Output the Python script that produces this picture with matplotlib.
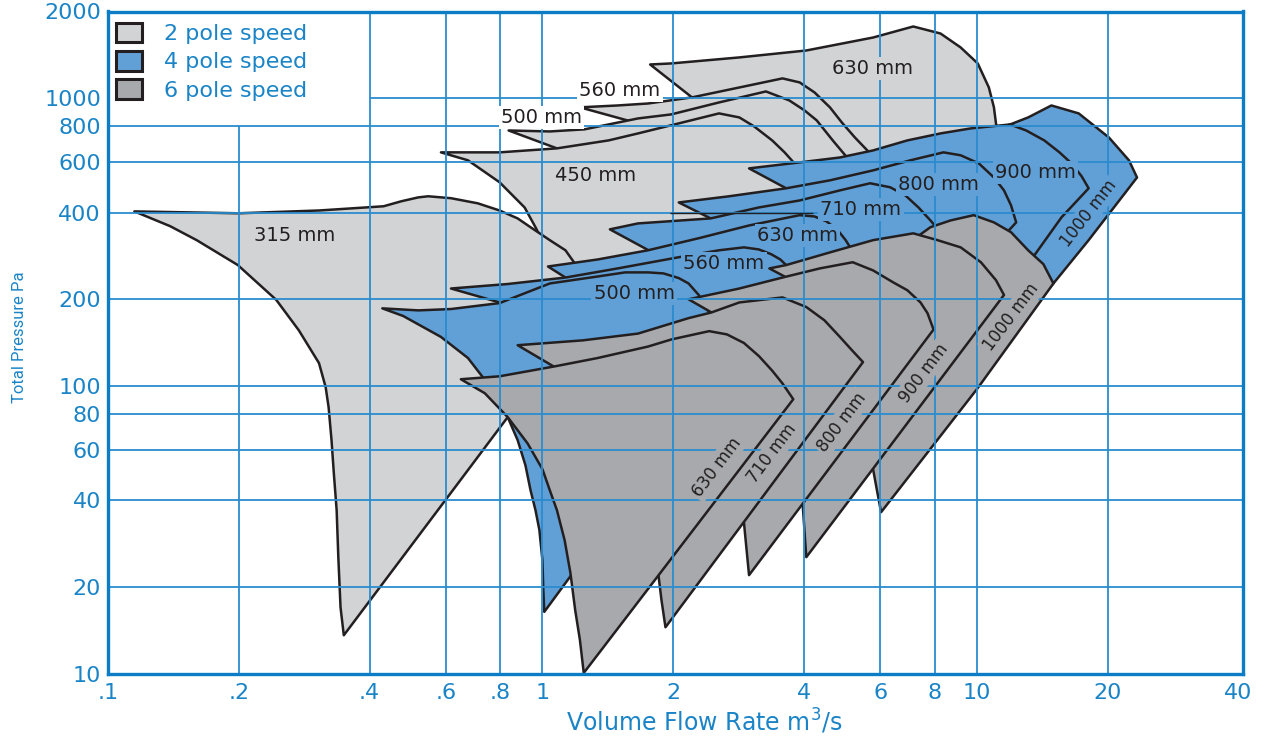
import matplotlib
matplotlib.use("Agg")
import matplotlib.pyplot as plt
from matplotlib.patches import Patch

LIGHT = "#d1d3d4"
BLUE = "#61a0d6"
DARK = "#a7a9ac"
EDGE = "#231f20"
GRID = "#2a8ccf"
AXIS = "#0b7dc6"
TEXT_BLUE = "#1a84c7"

# ---- 2 pole speed regions: flow (m3/s), total pressure (Pa) ----
P2_630_X = [1.77, 1.98, 2.84, 4.05, 5.77, 7.14, 8.25, 9.18, 10.05, 10.66, 10.95, 11.07, 11.37, 6.66, 1.75, 2.21]
P2_630_Y = [1309, 1320, 1385, 1464, 1624, 1774, 1677, 1500, 1320, 1089, 929, 817, 658, 347, 169, 1006]
P2_560_X = [1.22, 1.49, 1.75, 2.21, 2.84, 3.57, 3.91, 4.23, 4.59, 4.89, 5.24, 5.68, 5.74, 2.29, 1.60]
P2_560_Y = [929, 943, 958, 1006, 1089, 1171, 1134, 1047, 929, 823, 730, 643, 478, 156, 830]
P2_500_X = [0.836, 1.04, 1.25, 1.66, 1.98, 2.55, 3.27, 3.70, 4.01, 4.28, 4.66, 5.05, 5.10, 2.29, 1.08]
P2_500_Y = [772, 766, 779, 850, 878, 966, 1055, 982, 907, 837, 713, 617, 478, 156, 669]
P2_450_X = [0.584, 0.797, 1.08, 1.42, 1.66, 2.06, 2.55, 2.84, 3.07, 3.38, 3.61, 3.84, 3.91, 2.29, 1.08,
            0.964, 0.910, 0.797, 0.674]
P2_450_Y = [648, 648, 669, 713, 754, 817, 885, 857, 798, 713, 648, 584, 441, 156, 252, 356, 417, 510, 608]
P2_315_X = [0.115, 0.200, 0.306, 0.392, 0.431, 0.473, 0.518, 0.546, 0.616, 0.710, 0.797, 0.877, 0.939, 1.04,
            1.13, 1.21, 1.31, 0.832, 0.622, 0.349, 0.343, 0.339, 0.336, 0.331, 0.327, 0.322, 0.317, 0.306,
            0.275, 0.244, 0.199, 0.160, 0.139]
P2_315_Y = [404, 398, 407, 417, 421, 438, 452, 456, 449, 431, 407, 382, 356, 321, 296, 256, 191, 77.9, 43.4,
            13.6, 17.0, 25.4, 37.0, 49.8, 64.8, 84.3, 99.0, 120, 156, 199, 263, 321, 359]

# ---- 4 pole speed regions ----
P4_1000_X = [10.49, 11.93, 13.13, 14.85, 17.16, 20.14, 22.40, 23.38, 18.09, 15.01, 10.22, 6.66]
P4_1000_Y = [766, 810, 857, 943, 885, 730, 608, 530, 321, 227, 133, 441]
P4_900_X = [2.99, 3.91, 4.84, 5.77, 6.92, 8.25, 9.69, 11.93, 12.99, 14.30, 15.50, 16.52, 17.43, 18.09,
            15.66, 13.56, 10.22, 3.91, 3.64]
P4_900_Y = [570, 598, 622, 658, 713, 754, 785, 810, 772, 713, 648, 593, 535, 486, 385, 284, 133, 347, 486]
P4_800_X = [2.06, 2.69, 3.64, 4.59, 5.77, 7.03, 8.38, 9.18, 10.11, 10.95, 11.55, 11.99, 12.32, 11.68, 9.18,
            3.51, 2.44]
P4_800_Y = [434, 456, 486, 518, 561, 608, 648, 633, 593, 530, 478, 424, 370, 339, 156, 321, 382]
P4_710_X = [1.43, 1.66, 2.44, 3.15, 3.91, 4.84, 5.68, 6.32, 6.85, 7.34, 7.82, 8.25, 5.10, 1.75, 1.77]
P4_710_Y = [350, 367, 382, 417, 441, 478, 506, 490, 459, 417, 376, 342, 89.2, 156, 294]
P4_630_X = [1.03, 1.34, 1.75, 2.29, 2.99, 3.91, 4.23, 4.51, 4.79, 4.99, 5.16, 5.10, 1.49, 1.13]
P4_630_Y = [260, 275, 296, 326, 361, 392, 388, 373, 347, 321, 296, 89.2, 105, 238]
P4_560_X = [0.616, 0.832, 1.13, 1.49, 2.06, 2.55, 2.91, 3.15, 3.36, 3.53, 3.64, 3.91, 1.08, 0.797]
P4_560_Y = [218, 226, 238, 256, 280, 296, 303, 298, 287, 275, 263, 59.8, 59.8, 195]
P4_500_X = [0.428, 0.518, 0.616, 0.797, 1.04, 1.34, 1.55, 1.75, 1.90, 2.06, 2.17, 2.29, 2.42, 2.45, 1.85,
            1.21, 1.16, 1.01, 1.005, 1.0, 0.984, 0.964, 0.939, 0.914, 0.877, 0.832, 0.748, 0.674, 0.584, 0.478]
P4_500_Y = [186, 183, 185, 194, 227, 240, 248, 248, 246, 237, 227, 207, 180, 169, 76.0, 24.8, 21.8, 16.4,
            19.5, 24.8, 31.6, 37.0, 43.4, 53.0, 64.8, 77.9, 102, 125, 148, 175]

# ---- 6 pole speed regions ----
P6_1000_X = [6.85, 7.82, 8.71, 9.84, 10.95, 11.99, 13.13, 14.23, 15.01, 10.05, 6.02, 5.89, 5.77, 3.91]
P6_1000_Y = [308, 356, 376, 392, 370, 342, 296, 265, 227, 98.3, 36.4, 43.4, 51.4, 89.2]
P6_900_X = [3.33, 3.64, 4.59, 5.77, 7.14, 8.12, 9.18, 10.22, 11.07, 11.55, 4.05, 3.97, 3.15, 3.61]
P6_900_Y = [256, 263, 291, 321, 339, 321, 303, 269, 233, 207, 25.4, 39.5, 76.0, 240]
P6_800_X = [2.17, 2.84, 3.57, 4.35, 5.18, 5.77, 6.42, 6.92, 7.42, 7.70, 7.95, 2.99, 2.91, 2.29, 2.45]
P6_800_Y = [200, 218, 238, 256, 269, 252, 229, 215, 195, 179, 157, 22.0, 33.6, 76.0, 180]
P6_710_X = [0.877, 1.24, 1.66, 2.17, 2.45, 2.84, 3.57, 4.05, 4.46, 4.84, 5.16, 5.47, 1.92, 1.88, 1.85,
            1.34, 1.07]
P6_710_Y = [138.5, 144, 152, 172, 180, 195, 203, 188, 169, 148, 133, 121, 14.5, 18.0, 22.0, 40.1, 116]
P6_630_X = [0.649, 0.797, 1.07, 1.34, 1.75, 1.98, 2.42, 2.66, 2.91, 3.15, 3.38, 3.57, 3.78, 1.245, 1.22,
            1.19, 1.16, 1.125, 1.08, 1.04, 1.0, 0.924, 0.832, 0.737]
P6_630_Y = [105.5, 108, 117, 125, 137, 145, 155, 151, 141, 127, 113, 102, 89.9, 10.06, 13.1, 16.6, 22.4,
            29.1, 37.0, 43.4, 51.4, 63.2, 77.9, 94.3]

# ---- size labels ----
LAB2_TEXT = ["315 mm", "450 mm", "500 mm", "560 mm", "630 mm"]
LAB2_X = [0.269, 1.327, 0.995, 1.509, 5.74]
LAB2_Y = [334, 539, 857, 1063, 1268]
LAB4_TEXT = ["500 mm", "560 mm", "630 mm", "710 mm", "800 mm", "900 mm", "1000 mm"]
LAB4_X = [1.626, 2.616, 3.864, 5.41, 8.163, 13.63, 18.09]
LAB4_Y = [209.8, 266.7, 333.6, 410.7, 501.6, 552, 398]
LAB6_TEXT = ["630 mm", "710 mm", "800 mm", "900 mm", "1000 mm"]
LAB6_X = [2.52, 3.381, 4.889, 7.534, 11.99]
LAB6_Y = [52.2, 58.4, 74.8, 110.7, 173.2]

X_TICKS = [0.1, 0.2, 0.4, 0.6, 0.8, 1, 2, 4, 6, 8, 10, 20, 40]
X_TICK_LABELS = [".1", ".2", ".4", ".6", ".8", "1", "2", "4", "6", "8", "10", "20", "40"]
Y_TICKS = [10, 20, 40, 60, 80, 100, 200, 400, 600, 800, 1000, 2000]
LEGEND_LABELS = ["2 pole speed", "4 pole speed", "6 pole speed"]


def region(ax, xs, ys, color, z):
    ax.fill(xs, ys, facecolor=color, edgecolor=EDGE, linewidth=1.8, joinstyle="round", zorder=z)


fig = plt.figure(figsize=(12.73, 7.41), dpi=100)
ax = fig.add_axes([108 / 1273, (741 - 673.7) / 741, (1243 - 108) / 1273, (673.7 - 11.5) / 741])
ax.set_xscale("log")
ax.set_yscale("log")
ax.set_xlim(0.1, 41)
ax.set_ylim(10, 2000)

# back to front: larger fans behind, 4 pole over 2 pole, 6 pole over 4 pole
two_pole = [(P2_630_X, P2_630_Y), (P2_560_X, P2_560_Y), (P2_500_X, P2_500_Y),
            (P2_450_X, P2_450_Y), (P2_315_X, P2_315_Y)]
four_pole = [(P4_1000_X, P4_1000_Y), (P4_900_X, P4_900_Y), (P4_800_X, P4_800_Y), (P4_710_X, P4_710_Y),
             (P4_630_X, P4_630_Y), (P4_560_X, P4_560_Y), (P4_500_X, P4_500_Y)]
six_pole = [(P6_1000_X, P6_1000_Y), (P6_900_X, P6_900_Y), (P6_800_X, P6_800_Y),
            (P6_710_X, P6_710_Y), (P6_630_X, P6_630_Y)]
for xs, ys in two_pole:
    region(ax, xs, ys, LIGHT, 1)
for xs, ys in four_pole:
    region(ax, xs, ys, BLUE, 2)
for xs, ys in six_pole:
    region(ax, xs, ys, DARK, 3)

# grid sits over the fills; legend corner left open
for xv in X_TICKS[1:-1]:
    top = 800 if xv == 0.2 else 2000
    ax.vlines(xv, 10, top, color=GRID, lw=1.3, zorder=4)
for yv in Y_TICKS[1:-1]:
    left = 0.4 if yv == 1000 else 0.1
    ax.hlines(yv, left, 41, color=GRID, lw=1.3, zorder=4)
ax.hlines(400, 1.97, 4.2, color=EDGE, lw=1.0, zorder=4)

for t, x, y, bg in zip(LAB2_TEXT, LAB2_X, LAB2_Y, [LIGHT, LIGHT, "white", "white", LIGHT]):
    ax.text(x, y, t, fontsize=14, color=EDGE, ha="center", va="center", zorder=6,
            bbox=dict(facecolor=bg, edgecolor="none", pad=1.5))
for t, x, y in zip(LAB4_TEXT, LAB4_X, LAB4_Y):
    rot = 52 if t == "1000 mm" else 0
    ax.text(x, y, t, fontsize=12 if rot else 14, color=EDGE, ha="center", va="center", rotation=rot,
            rotation_mode="anchor", zorder=6, bbox=dict(facecolor=BLUE, edgecolor="none", pad=1.5))
for t, x, y in zip(LAB6_TEXT, LAB6_X, LAB6_Y):
    ax.text(x, y, t, fontsize=12, color=EDGE, ha="center", va="center", rotation=53,
            rotation_mode="anchor", zorder=6, bbox=dict(facecolor=DARK, edgecolor="none", pad=1.5))

ax.set_xticks(X_TICKS)
ax.set_xticklabels(X_TICK_LABELS)
ax.set_yticks(Y_TICKS)
ax.set_yticklabels([str(v) for v in Y_TICKS])
ax.minorticks_off()
ax.tick_params(length=0, labelsize=16, labelcolor=TEXT_BLUE)
ax.tick_params(axis="x", pad=7)
ax.tick_params(axis="y", pad=5)
for sp in ax.spines.values():
    sp.set_color(AXIS)
    sp.set_linewidth(2.4)
    sp.set_zorder(10)

fig.text(704 / 1273, (741 - 722) / 741, "Volume Flow Rate m$^3$/s", fontsize=17, color=TEXT_BLUE,
         ha="center", va="center")
fig.text(20 / 1273, (741 - 337) / 741, "Total Pressure Pa", fontsize=12, color=TEXT_BLUE,
         family=["Roboto", "DejaVu Sans"], rotation=90, ha="center", va="center")

handles = [Patch(facecolor=c, edgecolor=EDGE, linewidth=2.2) for c in (LIGHT, BLUE, DARK)]
leg = ax.legend(handles, LEGEND_LABELS, loc="upper left", bbox_to_anchor=(0.0, 0.995), frameon=False,
                fontsize=16, handlelength=1.2, handleheight=1.0, handletextpad=0.95,
                labelspacing=0.3, borderaxespad=0, borderpad=0.35)
for txt in leg.get_texts():
    txt.set_color(TEXT_BLUE)
leg.set_zorder(11)

fig.savefig("out.png", dpi=100)
